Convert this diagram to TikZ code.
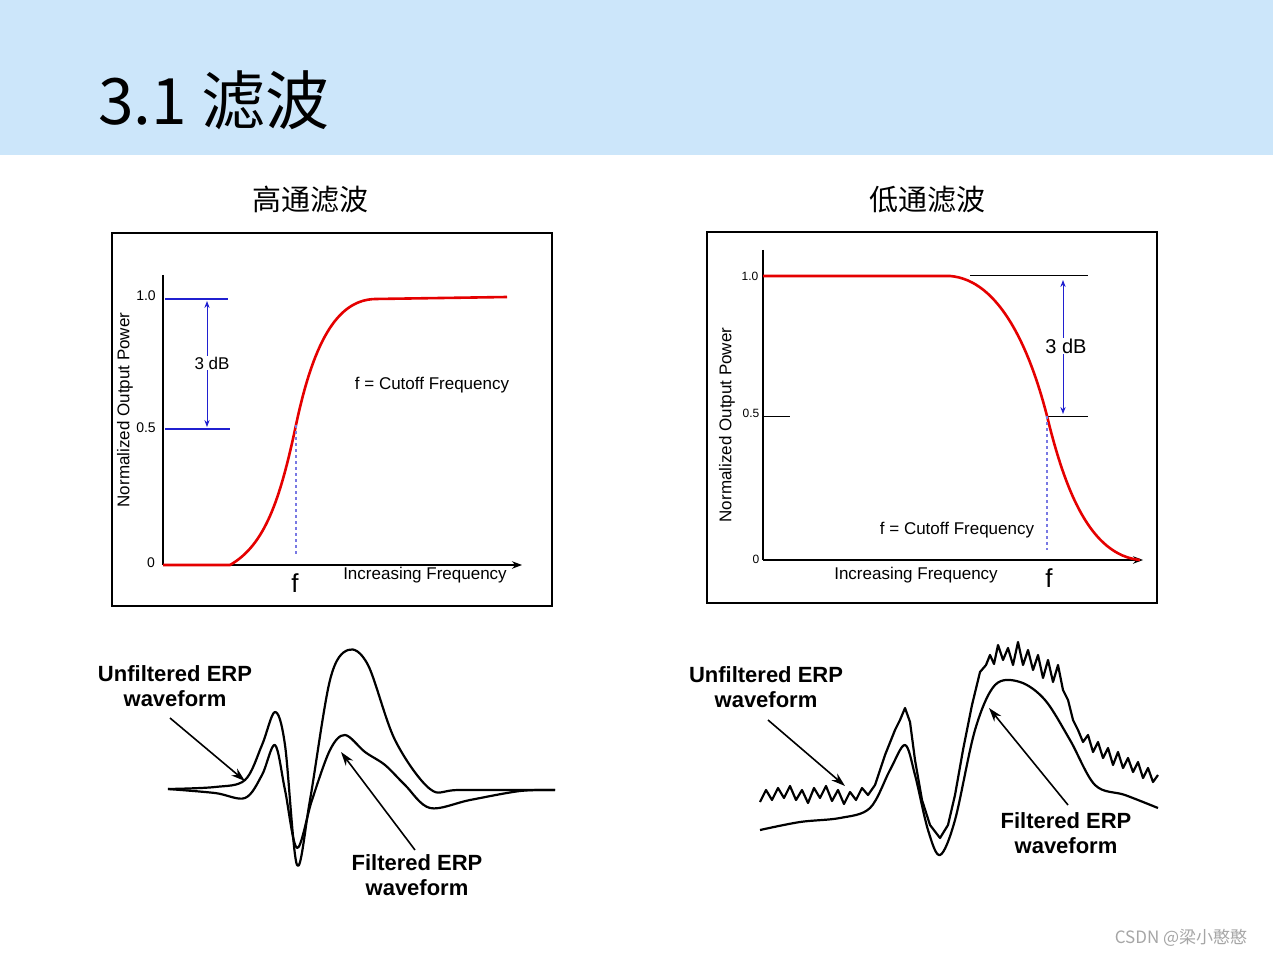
\documentclass[tikz,border=0pt]{standalone}
\usepackage{fontspec}
\setmainfont{Liberation Sans}
\newfontfamily\cjk{Noto Sans CJK SC}
\usetikzlibrary{arrows.meta}
\definecolor{band}{HTML}{CCE6FA}
\definecolor{axblue}{HTML}{2020D0}
\tikzset{
 ax/.style={line width=1.2pt},
 redc/.style={red!90!black,line width=2.6pt},
 tick/.style={font=\fontsize{14}{14}\selectfont},
 lab/.style={font=\fontsize{17}{17}\selectfont},
 erp/.style={font=\bfseries\fontsize{22}{25}\selectfont,align=center},
 wave/.style={line width=2.2pt,line join=round},
 arr/.style={line width=1.6pt,-{Stealth[length=14pt,width=9pt]}},
}
\begin{document}
\begin{tikzpicture}[x=1pt,y=-1pt]
\useasboundingbox (0,0) rectangle (1273,957);
\fill[white] (0,0) rectangle (1273,957);
\fill[band] (0,0) rectangle (1273,155);
\node[anchor=base west,inner sep=0,font=\cjk\fontsize{64}{64}\selectfont] (title) at (98,125) {3.1 滤波};
\node[font=\cjk\fontsize{29}{29}\selectfont] (hp) at (310,200) {高通滤波};
\node[font=\cjk\fontsize{29}{29}\selectfont] (lp) at (927,200) {低通滤波};
% ---- left box
\draw[line width=1.3pt] (112,233) rectangle (552,606);
\coordinate (lo) at (163,565);
\draw[ax] (163,275) -- (lo);
\draw[ax,-{Stealth[length=10pt]}] (lo) -- (522,565);
\node[tick] at (146,296) {1.0};
\node[tick] at (146,428) {0.5};
\node[tick] at (151,563) {0};
\draw[axblue,line width=1.2pt] (165,299) -- (228,299) (165,429) -- (230,429);
\coordinate (lb1) at (207,301); \coordinate (lb2) at (207,427);
\draw[axblue,line width=1pt,{Stealth[length=7pt]}-{Stealth[length=7pt]}] (lb1) -- (lb2);
\node[lab,fill=white,inner sep=1pt] (ldb) at (212,363) {3 dB};
\draw[redc] (163,565) -- (230,565) .. controls (265,545) and (280,500) .. (296,425) .. controls (315,335) and (340,300) .. (375,299) -- (507,297);
\draw[axblue!60,dashed,line width=1.2pt] (296,425) -- (296,555);
\node[font=\fontsize{26}{26}\selectfont] at (295,583) {f};
\node[lab] at (432,385) {f = Cutoff Frequency};
\node[lab] at (425,575) {Increasing Frequency};
\node[lab,rotate=90] at (125,410) {Normalized Output Power};
% ---- right box
\draw[line width=1.3pt] (707,232) rectangle (1157,603);
\draw[ax] (763,250) -- (763,560);
\draw[ax,-{Stealth[length=10pt]}] (763,560) -- (1143,560);
\node[font=\fontsize{12}{12}\selectfont] at (750,276) {1.0};
\node[font=\fontsize{12}{12}\selectfont] at (751,413) {0.5};
\node[font=\fontsize{12}{12}\selectfont] at (756,559) {0};
\draw[line width=1pt] (970,276) -- (1088,276) (1047,416) -- (1088,416) (763,416) -- (790,416);
\draw[axblue,line width=1pt,{Stealth[length=7pt]}-{Stealth[length=7pt]}] (1063,280) -- (1063,414);
\node[lab,font=\fontsize{20}{20}\selectfont,fill=white,inner sep=1pt] at (1066,346) {3 dB};
\draw[redc] (763,276) -- (950,276) .. controls (1000,280) and (1030,350) .. (1047,416) .. controls (1065,490) and (1090,555) .. (1140,560);
\draw[axblue!60,dashed,line width=1.2pt] (1047,416) -- (1047,550);
\node[font=\fontsize{26}{26}\selectfont] at (1049,578) {f};
\node[lab] at (957,530) {f = Cutoff Frequency};
\node[lab] at (916,575) {Increasing Frequency};
\node[lab,rotate=90] at (727,425) {Normalized Output Power};
% ---- bottom left waveforms
\draw[wave] plot[smooth,tension=0.55] coordinates {(168,789) (215,787) (245,780) (262,745) (275,712) (285,745) (297,865) (310,800) (330,680) (348,650) (368,665) (395,740) (430,789) (460,790) (555,790)};
\draw[wave] plot[smooth,tension=0.55] coordinates {(168,789) (215,793) (245,798) (262,775) (275,745) (285,790) (297,848) (312,800) (330,750) (345,735) (365,752) (385,765) (405,785) (430,808) (470,800) (520,791) (555,790)};
\node[erp] (ul) at (175,686) {Unfiltered ERP\\waveform};
\draw[arr] (170,718) -- (245,781);
\node[erp] (fl) at (417,875) {Filtered ERP\\waveform};
\draw[arr] (415,850) -- (341,752);
% ---- bottom right waveforms
\draw[wave] plot coordinates {(760,802) (766,790) (772,800) (778,788) (784,798) (790,786) (796,800) (802,790) (808,803) (814,788) (820,798) (826,786) (832,801) (838,790) (844,804) (850,792) (856,800) (862,788) (868,795) (875,785) (885,755) (895,730) (900,720) (905,708) (910,722) (915,760) (922,800) (930,825) (940,838) (948,825) (955,795) (963,750) (972,705) (980,672) (986,665) (990,655) (994,664) (998,645) (1003,660) (1008,648) (1013,665) (1018,642) (1023,665) (1028,650) (1033,670) (1038,655) (1043,678) (1048,660) (1053,682) (1058,665) (1063,690) (1068,700) (1073,720) (1078,730) (1083,742) (1088,735) (1093,752) (1098,742) (1103,758) (1108,748) (1113,765) (1118,752) (1123,768) (1128,758) (1133,772) (1138,762) (1143,778) (1148,768) (1153,782) (1158,775)};
\draw[wave] plot[smooth,tension=0.55] coordinates {(760,830) (800,822) (840,818) (870,808) (890,770) (905,745) (915,775) (928,830) (940,855) (955,820) (975,730) (995,685) (1020,682) (1045,700) (1070,740) (1095,785) (1125,795) (1158,808)};
\node[erp] (ur) at (766,687) {Unfiltered ERP\\waveform};
\draw[arr] (768,720) -- (845,786);
\node[erp] (fr) at (1066,833) {Filtered ERP\\waveform};
\draw[arr] (1068,805) -- (989,708);
\node[font=\cjk\fontsize{17}{17}\selectfont,text=gray!70] at (1181,938) {CSDN @梁小憨憨};
\end{tikzpicture}
\end{document}
